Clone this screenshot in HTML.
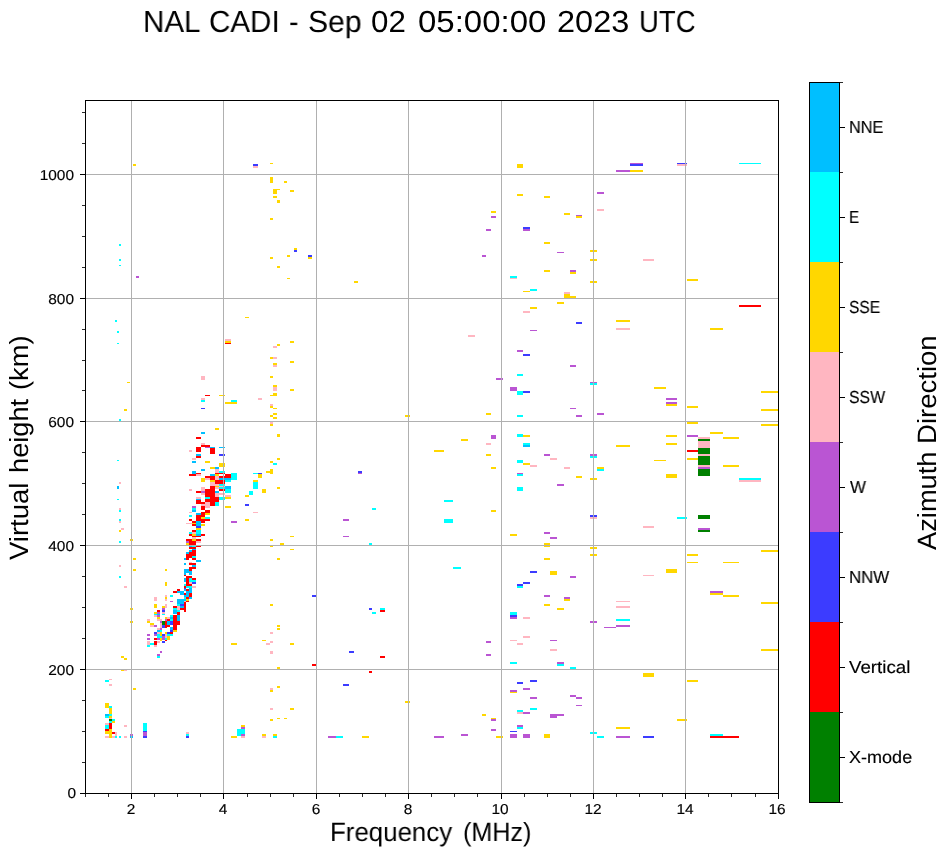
<!DOCTYPE html>
<html><head><meta charset="utf-8"><title>NAL CADI</title>
<style>
html,body{margin:0;padding:0;background:#fff;}
body{width:951px;height:856px;position:relative;overflow:hidden;font-family:"Liberation Sans",sans-serif;color:#000;}
.t{position:absolute;white-space:nowrap;line-height:1;will-change:transform;text-rendering:geometricPrecision;}
.xt,.yt,.ct{-webkit-text-stroke:0.15px #000;}
</style></head><body>
<svg width="951" height="856" viewBox="0 0 951 856" style="position:absolute;left:0;top:0" shape-rendering="crispEdges">
<rect x="133" y="164" width="3" height="2" fill="#ffd700"/>
<rect x="253" y="164" width="5" height="2" fill="#3c3cff"/>
<rect x="253" y="166" width="5" height="2" fill="#ffb6c1"/>
<rect x="270" y="163" width="3" height="1" fill="#ffd700"/>
<rect x="270" y="177" width="3" height="6" fill="#ffd700"/>
<rect x="284" y="181" width="3" height="2" fill="#ffd700"/>
<rect x="273" y="189" width="4" height="5" fill="#ffd700"/>
<rect x="273" y="189" width="7" height="1" fill="#ffd700"/>
<rect x="290" y="190" width="4" height="2" fill="#ffd700"/>
<rect x="273" y="196" width="4" height="2" fill="#ffd700"/>
<rect x="277" y="200" width="3" height="3" fill="#ffd700"/>
<rect x="270" y="218" width="3" height="2" fill="#ffd700"/>
<rect x="119" y="244" width="2" height="2" fill="#00ffff"/>
<rect x="119" y="259" width="2" height="2" fill="#00ffff"/>
<rect x="119" y="265" width="2" height="1" fill="#00ffff"/>
<rect x="136" y="276" width="3" height="2" fill="#ba55d3"/>
<rect x="294" y="248" width="3" height="2" fill="#ffd700"/>
<rect x="294" y="250" width="3" height="2" fill="#3c3cff"/>
<rect x="308" y="255" width="4" height="2" fill="#3c3cff"/>
<rect x="308" y="257" width="4" height="2" fill="#ffd700"/>
<rect x="287" y="255" width="3" height="2" fill="#ffd700"/>
<rect x="270" y="257" width="3" height="2" fill="#ffd700"/>
<rect x="277" y="266" width="3" height="2" fill="#ffd700"/>
<rect x="287" y="278" width="3" height="1" fill="#ffd700"/>
<rect x="115" y="320" width="2" height="2" fill="#00ffff"/>
<rect x="117" y="331" width="2" height="2" fill="#00ffff"/>
<rect x="117" y="343" width="2" height="1" fill="#00ffff"/>
<rect x="245" y="317" width="4" height="1" fill="#ffd700"/>
<rect x="225" y="339" width="6" height="2" fill="#ffb6c1"/>
<rect x="225" y="341" width="6" height="2" fill="#ffd700"/>
<rect x="225" y="343" width="6" height="1" fill="#ff0000"/>
<rect x="290" y="341" width="4" height="2" fill="#ffd700"/>
<rect x="277" y="344" width="3" height="2" fill="#ffd700"/>
<rect x="273" y="346" width="4" height="2" fill="#ffb6c1"/>
<rect x="270" y="357" width="3" height="2" fill="#ffd700"/>
<rect x="273" y="357" width="4" height="2" fill="#ffb6c1"/>
<rect x="290" y="361" width="4" height="2" fill="#ffd700"/>
<rect x="273" y="363" width="4" height="3" fill="#ffd700"/>
<rect x="517" y="164" width="6" height="4" fill="#ffd700"/>
<rect x="517" y="194" width="6" height="2" fill="#ffd700"/>
<rect x="544" y="196" width="6" height="2" fill="#ffd700"/>
<rect x="491" y="211" width="5" height="2" fill="#ffd700"/>
<rect x="491" y="216" width="5" height="2" fill="#ba55d3"/>
<rect x="486" y="229" width="5" height="2" fill="#ba55d3"/>
<rect x="523" y="227" width="7" height="2" fill="#3c3cff"/>
<rect x="523" y="229" width="7" height="2" fill="#ba55d3"/>
<rect x="544" y="242" width="6" height="2" fill="#ffd700"/>
<rect x="557" y="252" width="7" height="1" fill="#ba55d3"/>
<rect x="482" y="255" width="4" height="2" fill="#ba55d3"/>
<rect x="544" y="270" width="6" height="2" fill="#ffd700"/>
<rect x="510" y="276" width="7" height="2" fill="#00ffff"/>
<rect x="510" y="278" width="7" height="1" fill="#ffb6c1"/>
<rect x="354" y="281" width="4" height="2" fill="#ffd700"/>
<rect x="530" y="289" width="7" height="2" fill="#00ffff"/>
<rect x="523" y="291" width="7" height="1" fill="#ffd700"/>
<rect x="557" y="302" width="7" height="2" fill="#ffd700"/>
<rect x="530" y="307" width="7" height="2" fill="#ffd700"/>
<rect x="523" y="311" width="7" height="2" fill="#ffb6c1"/>
<rect x="530" y="330" width="7" height="1" fill="#ba55d3"/>
<rect x="468" y="335" width="7" height="2" fill="#ffb6c1"/>
<rect x="517" y="350" width="6" height="2" fill="#ba55d3"/>
<rect x="523" y="354" width="7" height="2" fill="#3c3cff"/>
<rect x="630" y="163" width="13" height="1" fill="#ba55d3"/>
<rect x="630" y="164" width="13" height="2" fill="#3c3cff"/>
<rect x="616" y="170" width="14" height="2" fill="#ba55d3"/>
<rect x="630" y="170" width="13" height="2" fill="#ffd700"/>
<rect x="677" y="163" width="10" height="1" fill="#3c3cff"/>
<rect x="677" y="164" width="10" height="2" fill="#ffb6c1"/>
<rect x="739" y="163" width="22" height="1" fill="#00ffff"/>
<rect x="597" y="192" width="7" height="2" fill="#ba55d3"/>
<rect x="597" y="209" width="7" height="2" fill="#ffb6c1"/>
<rect x="564" y="213" width="6" height="2" fill="#ffd700"/>
<rect x="576" y="215" width="6" height="1" fill="#ba55d3"/>
<rect x="576" y="216" width="6" height="2" fill="#ffd700"/>
<rect x="590" y="250" width="7" height="2" fill="#ffd700"/>
<rect x="590" y="259" width="7" height="2" fill="#ffd700"/>
<rect x="643" y="259" width="11" height="2" fill="#ffb6c1"/>
<rect x="570" y="270" width="6" height="2" fill="#ba55d3"/>
<rect x="570" y="272" width="6" height="2" fill="#ffd700"/>
<rect x="590" y="281" width="7" height="2" fill="#ffd700"/>
<rect x="687" y="279" width="11" height="2" fill="#ffd700"/>
<rect x="564" y="292" width="6" height="2" fill="#ffb6c1"/>
<rect x="564" y="294" width="6" height="4" fill="#ffd700"/>
<rect x="570" y="296" width="6" height="2" fill="#ffd700"/>
<rect x="739" y="305" width="22" height="2" fill="#ff0000"/>
<rect x="576" y="322" width="6" height="2" fill="#3c3cff"/>
<rect x="616" y="320" width="14" height="2" fill="#ffd700"/>
<rect x="616" y="328" width="14" height="2" fill="#ffb6c1"/>
<rect x="710" y="328" width="13" height="2" fill="#ffd700"/>
<rect x="127" y="382" width="3" height="1" fill="#ffd700"/>
<rect x="124" y="409" width="3" height="2" fill="#ffd700"/>
<rect x="119" y="419" width="2" height="2" fill="#00ffff"/>
<rect x="117" y="460" width="2" height="1" fill="#00ffff"/>
<rect x="119" y="482" width="2" height="2" fill="#ffb6c1"/>
<rect x="117" y="486" width="2" height="3" fill="#00bfff"/>
<rect x="117" y="499" width="2" height="1" fill="#00ffff"/>
<rect x="119" y="508" width="2" height="2" fill="#ffb6c1"/>
<rect x="119" y="510" width="2" height="2" fill="#00ffff"/>
<rect x="119" y="519" width="2" height="2" fill="#00ffff"/>
<rect x="119" y="521" width="2" height="2" fill="#ffb6c1"/>
<rect x="121" y="528" width="3" height="2" fill="#ffb6c1"/>
<rect x="119" y="530" width="2" height="2" fill="#ffd700"/>
<rect x="119" y="541" width="2" height="2" fill="#00ffff"/>
<rect x="130" y="539" width="3" height="2" fill="#ffd700"/>
<rect x="119" y="565" width="2" height="2" fill="#ffb6c1"/>
<rect x="119" y="576" width="2" height="2" fill="#00ffff"/>
<rect x="133" y="558" width="3" height="2" fill="#ffd700"/>
<rect x="133" y="569" width="3" height="2" fill="#ffd700"/>
<rect x="165" y="569" width="2" height="2" fill="#ffd700"/>
<rect x="201" y="376" width="4" height="4" fill="#ffb6c1"/>
<rect x="205" y="395" width="5" height="1" fill="#ff0000"/>
<rect x="219" y="395" width="6" height="1" fill="#ffd700"/>
<rect x="201" y="398" width="4" height="2" fill="#ffb6c1"/>
<rect x="201" y="400" width="4" height="2" fill="#00ffff"/>
<rect x="201" y="408" width="4" height="1" fill="#3c3cff"/>
<rect x="231" y="400" width="6" height="2" fill="#00ffff"/>
<rect x="225" y="402" width="12" height="2" fill="#ffd700"/>
<rect x="258" y="398" width="4" height="2" fill="#ffb6c1"/>
<rect x="273" y="366" width="4" height="1" fill="#ffb6c1"/>
<rect x="270" y="376" width="3" height="2" fill="#ffd700"/>
<rect x="273" y="385" width="4" height="2" fill="#ffd700"/>
<rect x="273" y="387" width="4" height="4" fill="#ffb6c1"/>
<rect x="290" y="389" width="4" height="2" fill="#ffd700"/>
<rect x="273" y="393" width="4" height="3" fill="#ffd700"/>
<rect x="270" y="395" width="3" height="1" fill="#ffd700"/>
<rect x="270" y="404" width="3" height="2" fill="#ffb6c1"/>
<rect x="270" y="406" width="3" height="2" fill="#ffd700"/>
<rect x="273" y="408" width="4" height="1" fill="#ffd700"/>
<rect x="273" y="413" width="4" height="2" fill="#ffd700"/>
<rect x="270" y="415" width="3" height="2" fill="#ffd700"/>
<rect x="273" y="417" width="4" height="2" fill="#ffd700"/>
<rect x="270" y="422" width="3" height="2" fill="#ffb6c1"/>
<rect x="270" y="424" width="3" height="2" fill="#ffd700"/>
<rect x="277" y="434" width="3" height="3" fill="#ffd700"/>
<rect x="277" y="458" width="3" height="2" fill="#ffd700"/>
<rect x="270" y="461" width="3" height="2" fill="#ffd700"/>
<rect x="273" y="463" width="4" height="2" fill="#00ffff"/>
<rect x="270" y="469" width="3" height="5" fill="#ffd700"/>
<rect x="266" y="471" width="4" height="2" fill="#ffd700"/>
<rect x="277" y="487" width="3" height="2" fill="#ffd700"/>
<rect x="290" y="536" width="4" height="1" fill="#ffd700"/>
<rect x="270" y="539" width="3" height="2" fill="#ffd700"/>
<rect x="280" y="543" width="4" height="2" fill="#ffd700"/>
<rect x="270" y="546" width="3" height="1" fill="#ffd700"/>
<rect x="290" y="549" width="4" height="1" fill="#ffd700"/>
<rect x="277" y="558" width="3" height="2" fill="#ffd700"/>
<rect x="231" y="473" width="6" height="7" fill="#00ffff"/>
<rect x="253" y="473" width="5" height="1" fill="#00ffff"/>
<rect x="258" y="473" width="4" height="1" fill="#3c3cff"/>
<rect x="258" y="474" width="4" height="4" fill="#ffd700"/>
<rect x="253" y="480" width="5" height="2" fill="#ffd700"/>
<rect x="253" y="482" width="5" height="7" fill="#00ffff"/>
<rect x="262" y="489" width="4" height="4" fill="#ffd700"/>
<rect x="249" y="491" width="4" height="4" fill="#00ffff"/>
<rect x="245" y="495" width="4" height="2" fill="#ffd700"/>
<rect x="245" y="504" width="4" height="2" fill="#3c3cff"/>
<rect x="253" y="512" width="5" height="1" fill="#ffb6c1"/>
<rect x="245" y="519" width="4" height="2" fill="#ffd700"/>
<rect x="231" y="521" width="6" height="2" fill="#ba55d3"/>
<rect x="225" y="506" width="6" height="2" fill="#ffd700"/>
<rect x="225" y="495" width="6" height="2" fill="#ffb6c1"/>
<rect x="225" y="497" width="6" height="2" fill="#ffd700"/>
<rect x="215" y="428" width="4" height="2" fill="#ffd700"/>
<rect x="201" y="432" width="4" height="2" fill="#00bfff"/>
<rect x="196" y="437" width="5" height="2" fill="#ff0000"/>
<rect x="201" y="443" width="4" height="2" fill="#ffb6c1"/>
<rect x="201" y="445" width="9" height="2" fill="#ff0000"/>
<rect x="205" y="447" width="5" height="1" fill="#ba55d3"/>
<rect x="210" y="447" width="5" height="1" fill="#00bfff"/>
<rect x="219" y="447" width="6" height="1" fill="#00bfff"/>
<rect x="196" y="447" width="5" height="5" fill="#ff0000"/>
<rect x="210" y="448" width="5" height="6" fill="#ff0000"/>
<rect x="189" y="450" width="3" height="2" fill="#ffb6c1"/>
<rect x="196" y="454" width="5" height="2" fill="#00bfff"/>
<rect x="219" y="454" width="6" height="2" fill="#3c3cff"/>
<rect x="196" y="456" width="5" height="2" fill="#ff0000"/>
<rect x="192" y="458" width="4" height="2" fill="#ffb6c1"/>
<rect x="192" y="461" width="4" height="2" fill="#00bfff"/>
<rect x="205" y="461" width="5" height="2" fill="#ffd700"/>
<rect x="219" y="463" width="6" height="4" fill="#ffd700"/>
<rect x="210" y="467" width="5" height="2" fill="#ffd700"/>
<rect x="215" y="467" width="4" height="2" fill="#00bfff"/>
<rect x="201" y="469" width="4" height="2" fill="#00bfff"/>
<rect x="215" y="469" width="4" height="4" fill="#ffb6c1"/>
<rect x="219" y="471" width="6" height="2" fill="#00ffff"/>
<rect x="192" y="471" width="4" height="3" fill="#00bfff"/>
<rect x="196" y="473" width="5" height="1" fill="#ff0000"/>
<rect x="189" y="474" width="7" height="2" fill="#ff0000"/>
<rect x="196" y="474" width="5" height="2" fill="#ffb6c1"/>
<rect x="215" y="473" width="10" height="1" fill="#ff0000"/>
<rect x="210" y="474" width="5" height="2" fill="#00bfff"/>
<rect x="215" y="474" width="4" height="2" fill="#ffd700"/>
<rect x="225" y="474" width="6" height="2" fill="#ff0000"/>
<rect x="205" y="476" width="10" height="2" fill="#ff0000"/>
<rect x="215" y="476" width="4" height="2" fill="#ffb6c1"/>
<rect x="219" y="476" width="12" height="2" fill="#ff0000"/>
<rect x="201" y="478" width="4" height="4" fill="#ffd700"/>
<rect x="205" y="478" width="5" height="2" fill="#ffb6c1"/>
<rect x="210" y="478" width="5" height="2" fill="#ff0000"/>
<rect x="215" y="478" width="4" height="2" fill="#ffb6c1"/>
<rect x="219" y="478" width="12" height="2" fill="#00bfff"/>
<rect x="210" y="480" width="5" height="2" fill="#ffd700"/>
<rect x="215" y="480" width="10" height="4" fill="#ff0000"/>
<rect x="225" y="480" width="6" height="2" fill="#00ffff"/>
<rect x="210" y="482" width="5" height="4" fill="#ffb6c1"/>
<rect x="215" y="484" width="4" height="2" fill="#ffb6c1"/>
<rect x="219" y="484" width="6" height="2" fill="#00ffff"/>
<rect x="210" y="486" width="5" height="3" fill="#ff0000"/>
<rect x="215" y="486" width="4" height="1" fill="#ffd700"/>
<rect x="219" y="486" width="6" height="1" fill="#ffb6c1"/>
<rect x="201" y="487" width="4" height="4" fill="#ffb6c1"/>
<rect x="215" y="487" width="4" height="2" fill="#ffb6c1"/>
<rect x="219" y="487" width="6" height="2" fill="#00ffff"/>
<rect x="225" y="486" width="6" height="3" fill="#00bfff"/>
<rect x="189" y="489" width="3" height="2" fill="#ffb6c1"/>
<rect x="205" y="489" width="10" height="3" fill="#ff0000"/>
<rect x="219" y="489" width="6" height="2" fill="#ff0000"/>
<rect x="225" y="489" width="6" height="3" fill="#00ffff"/>
<rect x="196" y="491" width="5" height="1" fill="#ff0000"/>
<rect x="201" y="491" width="4" height="1" fill="#ba55d3"/>
<rect x="215" y="491" width="4" height="1" fill="#00bfff"/>
<rect x="253" y="488" width="5" height="1" fill="#00ffff"/>
<rect x="249" y="491" width="4" height="4" fill="#00ffff"/>
<rect x="196" y="491" width="5" height="2" fill="#ff0000"/>
<rect x="201" y="491" width="4" height="2" fill="#ba55d3"/>
<rect x="205" y="491" width="10" height="2" fill="#ff0000"/>
<rect x="215" y="491" width="4" height="2" fill="#00bfff"/>
<rect x="225" y="489" width="6" height="4" fill="#00ffff"/>
<rect x="201" y="493" width="4" height="2" fill="#ffb6c1"/>
<rect x="205" y="493" width="10" height="4" fill="#ff0000"/>
<rect x="215" y="493" width="4" height="4" fill="#ffb6c1"/>
<rect x="219" y="493" width="6" height="2" fill="#ffb6c1"/>
<rect x="225" y="495" width="6" height="2" fill="#ffb6c1"/>
<rect x="245" y="495" width="4" height="2" fill="#ffd700"/>
<rect x="196" y="497" width="5" height="2" fill="#ffb6c1"/>
<rect x="205" y="497" width="5" height="2" fill="#00ffff"/>
<rect x="210" y="497" width="9" height="2" fill="#ff0000"/>
<rect x="219" y="497" width="6" height="3" fill="#00ffff"/>
<rect x="225" y="497" width="6" height="2" fill="#ffd700"/>
<rect x="196" y="499" width="5" height="1" fill="#00bfff"/>
<rect x="205" y="499" width="14" height="3" fill="#ff0000"/>
<rect x="196" y="500" width="5" height="2" fill="#ff0000"/>
<rect x="196" y="502" width="9" height="2" fill="#ff0000"/>
<rect x="205" y="502" width="5" height="6" fill="#ffb6c1"/>
<rect x="210" y="502" width="5" height="4" fill="#ff0000"/>
<rect x="215" y="502" width="4" height="4" fill="#00ffff"/>
<rect x="201" y="504" width="4" height="2" fill="#ffb6c1"/>
<rect x="245" y="504" width="4" height="2" fill="#3c3cff"/>
<rect x="192" y="506" width="4" height="2" fill="#ba55d3"/>
<rect x="201" y="506" width="4" height="4" fill="#ff0000"/>
<rect x="225" y="506" width="6" height="2" fill="#ffd700"/>
<rect x="192" y="508" width="4" height="2" fill="#00ffff"/>
<rect x="192" y="510" width="4" height="2" fill="#00bfff"/>
<rect x="205" y="510" width="5" height="3" fill="#ff0000"/>
<rect x="189" y="512" width="3" height="1" fill="#ffb6c1"/>
<rect x="201" y="512" width="4" height="1" fill="#ff0000"/>
<rect x="253" y="512" width="5" height="1" fill="#ffb6c1"/>
<rect x="196" y="513" width="5" height="2" fill="#00bfff"/>
<rect x="201" y="513" width="4" height="2" fill="#ff0000"/>
<rect x="205" y="513" width="5" height="2" fill="#ffd700"/>
<rect x="189" y="515" width="3" height="2" fill="#00ffff"/>
<rect x="196" y="515" width="9" height="2" fill="#ff0000"/>
<rect x="196" y="517" width="5" height="2" fill="#ff0000"/>
<rect x="201" y="517" width="4" height="2" fill="#ffd700"/>
<rect x="205" y="517" width="5" height="2" fill="#00ffff"/>
<rect x="189" y="519" width="3" height="2" fill="#ff0000"/>
<rect x="196" y="519" width="14" height="2" fill="#ff0000"/>
<rect x="245" y="519" width="4" height="2" fill="#ffd700"/>
<rect x="192" y="521" width="4" height="2" fill="#ff0000"/>
<rect x="196" y="521" width="5" height="5" fill="#00bfff"/>
<rect x="201" y="521" width="4" height="2" fill="#ff0000"/>
<rect x="231" y="521" width="6" height="2" fill="#ba55d3"/>
<rect x="186" y="523" width="6" height="1" fill="#ffb6c1"/>
<rect x="192" y="523" width="4" height="1" fill="#ffd700"/>
<rect x="192" y="524" width="4" height="2" fill="#ff0000"/>
<rect x="201" y="524" width="4" height="2" fill="#ffd700"/>
<rect x="196" y="526" width="5" height="2" fill="#3c3cff"/>
<rect x="196" y="528" width="5" height="2" fill="#ffd700"/>
<rect x="192" y="530" width="4" height="2" fill="#ff0000"/>
<rect x="196" y="530" width="5" height="4" fill="#00ffff"/>
<rect x="189" y="532" width="3" height="2" fill="#00ffff"/>
<rect x="192" y="532" width="4" height="2" fill="#ffb6c1"/>
<rect x="189" y="534" width="3" height="2" fill="#ff0000"/>
<rect x="192" y="534" width="4" height="2" fill="#ffd700"/>
<rect x="196" y="534" width="5" height="2" fill="#00bfff"/>
<rect x="201" y="534" width="4" height="2" fill="#ff0000"/>
<rect x="192" y="536" width="9" height="1" fill="#ff0000"/>
<rect x="192" y="537" width="4" height="2" fill="#ffb6c1"/>
<rect x="186" y="539" width="6" height="2" fill="#ff0000"/>
<rect x="192" y="539" width="4" height="2" fill="#ffd700"/>
<rect x="196" y="539" width="5" height="2" fill="#ff0000"/>
<rect x="186" y="541" width="3" height="2" fill="#ba55d3"/>
<rect x="189" y="541" width="7" height="4" fill="#ff0000"/>
<rect x="196" y="541" width="5" height="2" fill="#ffb6c1"/>
<rect x="186" y="543" width="3" height="2" fill="#ffd700"/>
<rect x="189" y="546" width="3" height="1" fill="#00bfff"/>
<rect x="192" y="546" width="4" height="1" fill="#00ffff"/>
<rect x="196" y="546" width="5" height="1" fill="#ff0000"/>
<rect x="189" y="547" width="7" height="2" fill="#ff0000"/>
<rect x="192" y="549" width="4" height="1" fill="#00bfff"/>
<rect x="189" y="550" width="3" height="2" fill="#00bfff"/>
<rect x="192" y="550" width="4" height="2" fill="#ff0000"/>
<rect x="186" y="552" width="3" height="2" fill="#00bfff"/>
<rect x="189" y="552" width="7" height="2" fill="#ff0000"/>
<rect x="186" y="554" width="10" height="2" fill="#ff0000"/>
<rect x="186" y="556" width="6" height="2" fill="#ff0000"/>
<rect x="192" y="556" width="4" height="2" fill="#00ffff"/>
<rect x="184" y="558" width="2" height="2" fill="#00bfff"/>
<rect x="186" y="558" width="3" height="2" fill="#ff0000"/>
<rect x="192" y="558" width="4" height="2" fill="#ff0000"/>
<rect x="196" y="560" width="5" height="2" fill="#00bfff"/>
<rect x="189" y="562" width="3" height="1" fill="#ffb6c1"/>
<rect x="184" y="563" width="2" height="2" fill="#00bfff"/>
<rect x="189" y="563" width="7" height="2" fill="#ff0000"/>
<rect x="192" y="565" width="4" height="2" fill="#00bfff"/>
<rect x="189" y="567" width="7" height="2" fill="#ff0000"/>
<rect x="165" y="569" width="2" height="2" fill="#ffd700"/>
<rect x="184" y="569" width="5" height="2" fill="#00bfff"/>
<rect x="189" y="569" width="3" height="2" fill="#ff0000"/>
<rect x="184" y="571" width="8" height="2" fill="#00bfff"/>
<rect x="184" y="573" width="2" height="2" fill="#00bfff"/>
<rect x="189" y="573" width="3" height="2" fill="#00bfff"/>
<rect x="184" y="575" width="2" height="1" fill="#ff0000"/>
<rect x="186" y="576" width="6" height="2" fill="#ff0000"/>
<rect x="184" y="578" width="2" height="4" fill="#00bfff"/>
<rect x="186" y="578" width="3" height="6" fill="#ff0000"/>
<rect x="189" y="578" width="3" height="4" fill="#00ffff"/>
<rect x="192" y="578" width="4" height="2" fill="#ff0000"/>
<rect x="192" y="580" width="4" height="2" fill="#00ffff"/>
<rect x="189" y="582" width="3" height="2" fill="#ffb6c1"/>
<rect x="192" y="582" width="4" height="2" fill="#3c3cff"/>
<rect x="165" y="582" width="2" height="4" fill="#ffd700"/>
<rect x="184" y="584" width="2" height="2" fill="#00ffff"/>
<rect x="186" y="584" width="6" height="2" fill="#ff0000"/>
<rect x="184" y="586" width="2" height="2" fill="#ff0000"/>
<rect x="186" y="586" width="6" height="2" fill="#00ffff"/>
<rect x="192" y="586" width="4" height="2" fill="#ffb6c1"/>
<rect x="184" y="588" width="2" height="1" fill="#3c3cff"/>
<rect x="189" y="588" width="3" height="1" fill="#00bfff"/>
<rect x="177" y="589" width="3" height="2" fill="#ff0000"/>
<rect x="184" y="589" width="2" height="2" fill="#00bfff"/>
<rect x="186" y="589" width="3" height="2" fill="#ff0000"/>
<rect x="189" y="589" width="3" height="4" fill="#00bfff"/>
<rect x="173" y="591" width="4" height="2" fill="#ff0000"/>
<rect x="177" y="591" width="7" height="2" fill="#00bfff"/>
<rect x="186" y="591" width="3" height="4" fill="#00bfff"/>
<rect x="180" y="593" width="4" height="2" fill="#00bfff"/>
<rect x="184" y="593" width="2" height="2" fill="#ff0000"/>
<rect x="189" y="593" width="3" height="4" fill="#ff0000"/>
<rect x="165" y="595" width="2" height="2" fill="#ffb6c1"/>
<rect x="170" y="595" width="3" height="2" fill="#00ffff"/>
<rect x="184" y="595" width="5" height="2" fill="#00bfff"/>
<rect x="154" y="597" width="3" height="4" fill="#ffb6c1"/>
<rect x="165" y="597" width="2" height="2" fill="#ffd700"/>
<rect x="184" y="597" width="2" height="2" fill="#00ffff"/>
<rect x="186" y="597" width="3" height="2" fill="#ff0000"/>
<rect x="189" y="597" width="3" height="2" fill="#00bfff"/>
<rect x="165" y="599" width="2" height="2" fill="#ffb6c1"/>
<rect x="177" y="599" width="9" height="2" fill="#00bfff"/>
<rect x="186" y="599" width="3" height="2" fill="#ffd700"/>
<rect x="170" y="601" width="3" height="1" fill="#ba55d3"/>
<rect x="177" y="601" width="7" height="3" fill="#00bfff"/>
<rect x="184" y="601" width="2" height="1" fill="#ffb6c1"/>
<rect x="186" y="601" width="3" height="1" fill="#ff0000"/>
<rect x="184" y="602" width="2" height="10" fill="#ff0000"/>
<rect x="154" y="604" width="3" height="4" fill="#ffd700"/>
<rect x="165" y="604" width="2" height="4" fill="#ffb6c1"/>
<rect x="177" y="604" width="3" height="2" fill="#00ffff"/>
<rect x="180" y="604" width="4" height="2" fill="#3c3cff"/>
<rect x="162" y="606" width="3" height="2" fill="#ffd700"/>
<rect x="173" y="606" width="4" height="2" fill="#ff0000"/>
<rect x="177" y="606" width="3" height="4" fill="#ffb6c1"/>
<rect x="180" y="606" width="4" height="2" fill="#00bfff"/>
<rect x="162" y="608" width="3" height="2" fill="#ba55d3"/>
<rect x="173" y="608" width="4" height="2" fill="#00ffff"/>
<rect x="180" y="608" width="4" height="2" fill="#ff0000"/>
<rect x="157" y="610" width="3" height="2" fill="#ff0000"/>
<rect x="162" y="610" width="3" height="2" fill="#3c3cff"/>
<rect x="173" y="610" width="4" height="4" fill="#00bfff"/>
<rect x="177" y="610" width="3" height="2" fill="#00ffff"/>
<rect x="154" y="612" width="3" height="2" fill="#ffd700"/>
<rect x="157" y="612" width="3" height="2" fill="#ba55d3"/>
<rect x="162" y="612" width="3" height="2" fill="#ffb6c1"/>
<rect x="177" y="612" width="3" height="3" fill="#ff0000"/>
<rect x="154" y="614" width="3" height="1" fill="#00ffff"/>
<rect x="157" y="614" width="3" height="1" fill="#00bfff"/>
<rect x="162" y="614" width="3" height="1" fill="#00ffff"/>
<rect x="154" y="615" width="3" height="2" fill="#ffb6c1"/>
<rect x="157" y="615" width="3" height="2" fill="#ba55d3"/>
<rect x="170" y="615" width="3" height="2" fill="#00ffff"/>
<rect x="173" y="615" width="4" height="13" fill="#ff0000"/>
<rect x="177" y="615" width="3" height="6" fill="#00bfff"/>
<rect x="157" y="617" width="3" height="2" fill="#ffd700"/>
<rect x="165" y="617" width="2" height="2" fill="#ffd700"/>
<rect x="167" y="617" width="3" height="2" fill="#ffb6c1"/>
<rect x="170" y="617" width="3" height="2" fill="#00bfff"/>
<rect x="147" y="619" width="3" height="2" fill="#ffb6c1"/>
<rect x="157" y="619" width="5" height="2" fill="#ffb6c1"/>
<rect x="165" y="619" width="2" height="2" fill="#ba55d3"/>
<rect x="167" y="619" width="3" height="2" fill="#ff0000"/>
<rect x="170" y="619" width="3" height="2" fill="#00ffff"/>
<rect x="147" y="621" width="3" height="2" fill="#ffd700"/>
<rect x="160" y="621" width="2" height="2" fill="#ba55d3"/>
<rect x="162" y="621" width="3" height="4" fill="#008000"/>
<rect x="165" y="621" width="2" height="7" fill="#ff0000"/>
<rect x="167" y="621" width="3" height="4" fill="#00bfff"/>
<rect x="170" y="621" width="3" height="4" fill="#3c3cff"/>
<rect x="177" y="621" width="3" height="4" fill="#ff0000"/>
<rect x="150" y="623" width="4" height="2" fill="#ffd700"/>
<rect x="160" y="623" width="2" height="5" fill="#ffb6c1"/>
<rect x="150" y="625" width="4" height="2" fill="#ffb6c1"/>
<rect x="154" y="625" width="3" height="2" fill="#ba55d3"/>
<rect x="162" y="625" width="3" height="3" fill="#3c3cff"/>
<rect x="167" y="625" width="3" height="2" fill="#ff0000"/>
<rect x="170" y="627" width="3" height="1" fill="#00bfff"/>
<rect x="157" y="628" width="3" height="2" fill="#ffb6c1"/>
<rect x="160" y="628" width="2" height="2" fill="#ba55d3"/>
<rect x="170" y="627" width="3" height="3" fill="#00bfff"/>
<rect x="173" y="625" width="4" height="5" fill="#ff0000"/>
<rect x="157" y="630" width="3" height="2" fill="#00bfff"/>
<rect x="160" y="630" width="2" height="2" fill="#00ffff"/>
<rect x="170" y="630" width="3" height="2" fill="#3c3cff"/>
<rect x="173" y="630" width="4" height="2" fill="#ffd700"/>
<rect x="154" y="632" width="3" height="2" fill="#3c3cff"/>
<rect x="157" y="632" width="3" height="2" fill="#ffb6c1"/>
<rect x="160" y="632" width="2" height="4" fill="#ffd700"/>
<rect x="165" y="632" width="2" height="2" fill="#ffd700"/>
<rect x="167" y="632" width="3" height="2" fill="#3c3cff"/>
<rect x="170" y="632" width="3" height="2" fill="#ff0000"/>
<rect x="147" y="634" width="3" height="2" fill="#ba55d3"/>
<rect x="154" y="634" width="3" height="2" fill="#ba55d3"/>
<rect x="157" y="634" width="3" height="2" fill="#00ffff"/>
<rect x="162" y="634" width="3" height="2" fill="#3c3cff"/>
<rect x="165" y="634" width="2" height="4" fill="#ffb6c1"/>
<rect x="167" y="634" width="6" height="2" fill="#00ffff"/>
<rect x="157" y="636" width="5" height="2" fill="#00ffff"/>
<rect x="162" y="636" width="3" height="4" fill="#ba55d3"/>
<rect x="167" y="636" width="3" height="4" fill="#ffd700"/>
<rect x="147" y="638" width="3" height="2" fill="#ba55d3"/>
<rect x="154" y="638" width="3" height="2" fill="#ff0000"/>
<rect x="157" y="638" width="3" height="2" fill="#ba55d3"/>
<rect x="160" y="638" width="2" height="3" fill="#ffd700"/>
<rect x="165" y="638" width="2" height="2" fill="#00ffff"/>
<rect x="165" y="640" width="2" height="1" fill="#ff0000"/>
<rect x="147" y="641" width="3" height="4" fill="#ffb6c1"/>
<rect x="154" y="641" width="3" height="4" fill="#ff0000"/>
<rect x="157" y="641" width="3" height="2" fill="#ffb6c1"/>
<rect x="162" y="641" width="3" height="2" fill="#3c3cff"/>
<rect x="150" y="643" width="4" height="2" fill="#00ffff"/>
<rect x="147" y="645" width="3" height="2" fill="#00ffff"/>
<rect x="154" y="645" width="3" height="2" fill="#ffb6c1"/>
<rect x="160" y="651" width="2" height="2" fill="#ba55d3"/>
<rect x="157" y="654" width="3" height="2" fill="#ba55d3"/>
<rect x="157" y="656" width="3" height="2" fill="#00ffff"/>
<rect x="133" y="688" width="3" height="2" fill="#ffd700"/>
<rect x="517" y="374" width="6" height="2" fill="#00ffff"/>
<rect x="496" y="378" width="7" height="2" fill="#ba55d3"/>
<rect x="510" y="387" width="7" height="4" fill="#ba55d3"/>
<rect x="517" y="391" width="6" height="4" fill="#00ffff"/>
<rect x="523" y="391" width="7" height="2" fill="#3c3cff"/>
<rect x="486" y="413" width="5" height="2" fill="#ffd700"/>
<rect x="405" y="415" width="5" height="2" fill="#ffd700"/>
<rect x="517" y="415" width="6" height="2" fill="#00ffff"/>
<rect x="491" y="435" width="5" height="4" fill="#ba55d3"/>
<rect x="517" y="434" width="6" height="3" fill="#00ffff"/>
<rect x="523" y="435" width="7" height="2" fill="#ffd700"/>
<rect x="461" y="439" width="7" height="2" fill="#ffd700"/>
<rect x="486" y="443" width="5" height="2" fill="#ffb6c1"/>
<rect x="523" y="443" width="7" height="2" fill="#00ffff"/>
<rect x="523" y="445" width="7" height="2" fill="#00bfff"/>
<rect x="434" y="450" width="10" height="2" fill="#ffd700"/>
<rect x="486" y="454" width="5" height="2" fill="#ffd700"/>
<rect x="544" y="454" width="6" height="2" fill="#ba55d3"/>
<rect x="550" y="458" width="7" height="2" fill="#ffb6c1"/>
<rect x="517" y="460" width="6" height="3" fill="#00ffff"/>
<rect x="523" y="463" width="7" height="2" fill="#ffd700"/>
<rect x="530" y="465" width="7" height="2" fill="#ffb6c1"/>
<rect x="491" y="467" width="5" height="2" fill="#ffd700"/>
<rect x="358" y="471" width="4" height="2" fill="#3c3cff"/>
<rect x="358" y="473" width="4" height="1" fill="#ba55d3"/>
<rect x="517" y="473" width="6" height="1" fill="#ba55d3"/>
<rect x="517" y="474" width="6" height="2" fill="#00ffff"/>
<rect x="557" y="484" width="7" height="2" fill="#ba55d3"/>
<rect x="517" y="487" width="6" height="4" fill="#00ffff"/>
<rect x="444" y="500" width="9" height="2" fill="#00ffff"/>
<rect x="372" y="508" width="4" height="2" fill="#00ffff"/>
<rect x="491" y="510" width="5" height="2" fill="#ffd700"/>
<rect x="343" y="519" width="6" height="2" fill="#ba55d3"/>
<rect x="444" y="519" width="9" height="4" fill="#00ffff"/>
<rect x="544" y="532" width="6" height="2" fill="#ba55d3"/>
<rect x="510" y="534" width="7" height="2" fill="#ffd700"/>
<rect x="343" y="536" width="6" height="1" fill="#ba55d3"/>
<rect x="550" y="537" width="7" height="2" fill="#ba55d3"/>
<rect x="369" y="543" width="3" height="2" fill="#00ffff"/>
<rect x="544" y="543" width="6" height="4" fill="#ffd700"/>
<rect x="544" y="558" width="6" height="2" fill="#ffd700"/>
<rect x="453" y="567" width="8" height="2" fill="#00ffff"/>
<rect x="530" y="571" width="7" height="2" fill="#3c3cff"/>
<rect x="550" y="571" width="7" height="4" fill="#ffd700"/>
<rect x="570" y="365" width="6" height="2" fill="#ba55d3"/>
<rect x="590" y="382" width="7" height="1" fill="#ba55d3"/>
<rect x="590" y="383" width="7" height="2" fill="#00ffff"/>
<rect x="654" y="387" width="12" height="2" fill="#ffd700"/>
<rect x="761" y="391" width="17" height="2" fill="#ffd700"/>
<rect x="666" y="398" width="11" height="2" fill="#ba55d3"/>
<rect x="666" y="402" width="11" height="2" fill="#ba55d3"/>
<rect x="666" y="404" width="11" height="2" fill="#ffd700"/>
<rect x="687" y="406" width="11" height="2" fill="#ffd700"/>
<rect x="570" y="408" width="6" height="1" fill="#ba55d3"/>
<rect x="761" y="409" width="17" height="2" fill="#ffd700"/>
<rect x="597" y="413" width="7" height="2" fill="#ba55d3"/>
<rect x="576" y="415" width="6" height="2" fill="#ba55d3"/>
<rect x="687" y="422" width="11" height="2" fill="#ffd700"/>
<rect x="761" y="424" width="17" height="2" fill="#ffd700"/>
<rect x="710" y="432" width="13" height="2" fill="#ffd700"/>
<rect x="666" y="435" width="11" height="2" fill="#ffd700"/>
<rect x="687" y="435" width="11" height="2" fill="#ba55d3"/>
<rect x="723" y="437" width="16" height="2" fill="#ffd700"/>
<rect x="698" y="437" width="12" height="2" fill="#ffb6c1"/>
<rect x="698" y="439" width="12" height="2" fill="#008000"/>
<rect x="698" y="441" width="12" height="7" fill="#ffb6c1"/>
<rect x="698" y="448" width="12" height="6" fill="#008000"/>
<rect x="698" y="454" width="12" height="2" fill="#ffb6c1"/>
<rect x="698" y="456" width="12" height="9" fill="#008000"/>
<rect x="698" y="465" width="12" height="2" fill="#ffb6c1"/>
<rect x="698" y="467" width="12" height="2" fill="#ba55d3"/>
<rect x="698" y="469" width="12" height="7" fill="#008000"/>
<rect x="666" y="443" width="11" height="2" fill="#ffd700"/>
<rect x="616" y="445" width="14" height="2" fill="#ffd700"/>
<rect x="687" y="450" width="11" height="2" fill="#ff0000"/>
<rect x="590" y="454" width="7" height="2" fill="#ba55d3"/>
<rect x="590" y="456" width="7" height="2" fill="#00ffff"/>
<rect x="687" y="458" width="11" height="2" fill="#ffd700"/>
<rect x="654" y="460" width="12" height="1" fill="#ffd700"/>
<rect x="564" y="467" width="6" height="2" fill="#ffb6c1"/>
<rect x="597" y="467" width="7" height="2" fill="#ffd700"/>
<rect x="597" y="469" width="7" height="2" fill="#00ffff"/>
<rect x="723" y="465" width="16" height="2" fill="#ffd700"/>
<rect x="666" y="474" width="11" height="4" fill="#ffd700"/>
<rect x="576" y="476" width="6" height="2" fill="#ffd700"/>
<rect x="590" y="478" width="7" height="2" fill="#ffd700"/>
<rect x="739" y="478" width="22" height="2" fill="#00ffff"/>
<rect x="739" y="480" width="22" height="2" fill="#ffb6c1"/>
<rect x="590" y="515" width="7" height="2" fill="#3c3cff"/>
<rect x="590" y="517" width="7" height="2" fill="#ffb6c1"/>
<rect x="698" y="515" width="12" height="4" fill="#008000"/>
<rect x="677" y="517" width="10" height="2" fill="#00ffff"/>
<rect x="643" y="526" width="11" height="2" fill="#ffb6c1"/>
<rect x="698" y="528" width="12" height="2" fill="#ba55d3"/>
<rect x="698" y="530" width="12" height="2" fill="#008000"/>
<rect x="590" y="547" width="7" height="2" fill="#ffd700"/>
<rect x="761" y="550" width="17" height="2" fill="#ffd700"/>
<rect x="590" y="554" width="7" height="2" fill="#ffd700"/>
<rect x="687" y="554" width="11" height="2" fill="#ffd700"/>
<rect x="687" y="562" width="11" height="1" fill="#ffd700"/>
<rect x="723" y="562" width="16" height="1" fill="#ffd700"/>
<rect x="666" y="569" width="11" height="4" fill="#ffd700"/>
<rect x="643" y="575" width="11" height="1" fill="#ffb6c1"/>
<rect x="570" y="576" width="6" height="2" fill="#ba55d3"/>
<rect x="124" y="586" width="3" height="2" fill="#ffb6c1"/>
<rect x="130" y="608" width="3" height="2" fill="#ffd700"/>
<rect x="130" y="621" width="3" height="2" fill="#ffd700"/>
<rect x="121" y="656" width="3" height="2" fill="#ffd700"/>
<rect x="124" y="658" width="3" height="2" fill="#ffd700"/>
<rect x="121" y="670" width="6" height="1" fill="#ffd700"/>
<rect x="312" y="595" width="4" height="2" fill="#3c3cff"/>
<rect x="270" y="604" width="3" height="2" fill="#ffd700"/>
<rect x="277" y="625" width="3" height="2" fill="#ffd700"/>
<rect x="277" y="628" width="3" height="2" fill="#ffd700"/>
<rect x="270" y="632" width="3" height="2" fill="#ffb6c1"/>
<rect x="262" y="640" width="4" height="1" fill="#ffd700"/>
<rect x="270" y="641" width="3" height="2" fill="#ffb6c1"/>
<rect x="266" y="643" width="4" height="2" fill="#ffb6c1"/>
<rect x="231" y="643" width="6" height="2" fill="#ffd700"/>
<rect x="290" y="643" width="4" height="2" fill="#ffd700"/>
<rect x="270" y="651" width="3" height="3" fill="#ffb6c1"/>
<rect x="312" y="664" width="4" height="2" fill="#ff0000"/>
<rect x="277" y="667" width="3" height="2" fill="#ffd700"/>
<rect x="277" y="686" width="3" height="2" fill="#ffd700"/>
<rect x="270" y="688" width="3" height="2" fill="#ffb6c1"/>
<rect x="270" y="690" width="3" height="2" fill="#ffd700"/>
<rect x="270" y="708" width="3" height="2" fill="#ffb6c1"/>
<rect x="290" y="708" width="4" height="2" fill="#ffd700"/>
<rect x="270" y="719" width="3" height="2" fill="#ffd700"/>
<rect x="277" y="718" width="3" height="1" fill="#ffd700"/>
<rect x="284" y="718" width="3" height="1" fill="#ffd700"/>
<rect x="133" y="688" width="3" height="2" fill="#ffd700"/>
<rect x="121" y="670" width="3" height="1" fill="#ffd700"/>
<rect x="124" y="670" width="3" height="1" fill="#ffb6c1"/>
<rect x="109" y="679" width="3" height="1" fill="#ffb6c1"/>
<rect x="105" y="680" width="4" height="2" fill="#00ffff"/>
<rect x="109" y="684" width="3" height="2" fill="#ffb6c1"/>
<rect x="105" y="703" width="4" height="5" fill="#ffd700"/>
<rect x="109" y="706" width="3" height="2" fill="#00ffff"/>
<rect x="109" y="708" width="3" height="6" fill="#ffd700"/>
<rect x="105" y="714" width="4" height="2" fill="#00bfff"/>
<rect x="109" y="714" width="3" height="2" fill="#00ffff"/>
<rect x="105" y="716" width="4" height="2" fill="#00ffff"/>
<rect x="109" y="716" width="3" height="2" fill="#ffd700"/>
<rect x="109" y="718" width="3" height="1" fill="#ffb6c1"/>
<rect x="109" y="719" width="3" height="2" fill="#008000"/>
<rect x="112" y="719" width="3" height="2" fill="#00ffff"/>
<rect x="109" y="721" width="3" height="2" fill="#00ffff"/>
<rect x="112" y="721" width="3" height="2" fill="#ffd700"/>
<rect x="105" y="723" width="4" height="2" fill="#ffb6c1"/>
<rect x="109" y="723" width="3" height="6" fill="#ff0000"/>
<rect x="105" y="725" width="4" height="4" fill="#00ffff"/>
<rect x="124" y="725" width="3" height="2" fill="#ffb6c1"/>
<rect x="105" y="729" width="4" height="2" fill="#ff0000"/>
<rect x="109" y="729" width="3" height="9" fill="#ffd700"/>
<rect x="105" y="731" width="4" height="3" fill="#ffd700"/>
<rect x="112" y="732" width="3" height="2" fill="#ff0000"/>
<rect x="115" y="732" width="2" height="4" fill="#ffb6c1"/>
<rect x="105" y="736" width="4" height="2" fill="#ffb6c1"/>
<rect x="112" y="736" width="3" height="2" fill="#ffb6c1"/>
<rect x="115" y="736" width="2" height="2" fill="#00ffff"/>
<rect x="119" y="736" width="2" height="2" fill="#00ffff"/>
<rect x="124" y="736" width="3" height="2" fill="#ffb6c1"/>
<rect x="130" y="734" width="3" height="2" fill="#ba55d3"/>
<rect x="130" y="736" width="3" height="2" fill="#00bfff"/>
<rect x="143" y="723" width="4" height="8" fill="#00ffff"/>
<rect x="143" y="731" width="4" height="1" fill="#3c3cff"/>
<rect x="143" y="732" width="4" height="4" fill="#ba55d3"/>
<rect x="143" y="736" width="4" height="2" fill="#3c3cff"/>
<rect x="186" y="732" width="3" height="2" fill="#ffb6c1"/>
<rect x="186" y="734" width="3" height="2" fill="#00ffff"/>
<rect x="186" y="736" width="3" height="2" fill="#3c3cff"/>
<rect x="231" y="736" width="6" height="2" fill="#ffd700"/>
<rect x="241" y="725" width="4" height="2" fill="#ffd700"/>
<rect x="241" y="727" width="4" height="2" fill="#ba55d3"/>
<rect x="237" y="729" width="8" height="5" fill="#00ffff"/>
<rect x="237" y="734" width="4" height="2" fill="#00ffff"/>
<rect x="241" y="734" width="4" height="2" fill="#ba55d3"/>
<rect x="241" y="736" width="4" height="2" fill="#ffb6c1"/>
<rect x="262" y="734" width="4" height="2" fill="#ffd700"/>
<rect x="262" y="736" width="4" height="2" fill="#ffb6c1"/>
<rect x="273" y="734" width="4" height="2" fill="#ffd700"/>
<rect x="273" y="736" width="4" height="2" fill="#00ffff"/>
<rect x="523" y="582" width="7" height="2" fill="#3c3cff"/>
<rect x="517" y="584" width="6" height="2" fill="#3c3cff"/>
<rect x="517" y="586" width="6" height="2" fill="#00ffff"/>
<rect x="544" y="595" width="6" height="2" fill="#ba55d3"/>
<rect x="544" y="604" width="6" height="2" fill="#ffd700"/>
<rect x="557" y="608" width="7" height="2" fill="#ffd700"/>
<rect x="369" y="608" width="3" height="2" fill="#3c3cff"/>
<rect x="380" y="608" width="5" height="2" fill="#00ffff"/>
<rect x="380" y="610" width="5" height="2" fill="#ff0000"/>
<rect x="372" y="612" width="4" height="2" fill="#00ffff"/>
<rect x="510" y="612" width="7" height="3" fill="#00ffff"/>
<rect x="510" y="615" width="7" height="2" fill="#3c3cff"/>
<rect x="510" y="617" width="7" height="2" fill="#ba55d3"/>
<rect x="523" y="617" width="7" height="2" fill="#ffb6c1"/>
<rect x="523" y="636" width="7" height="2" fill="#ffb6c1"/>
<rect x="510" y="640" width="7" height="1" fill="#ffb6c1"/>
<rect x="550" y="640" width="7" height="1" fill="#ba55d3"/>
<rect x="486" y="641" width="5" height="2" fill="#ba55d3"/>
<rect x="517" y="643" width="6" height="2" fill="#ffb6c1"/>
<rect x="550" y="649" width="7" height="2" fill="#ffb6c1"/>
<rect x="349" y="651" width="5" height="2" fill="#3c3cff"/>
<rect x="486" y="654" width="5" height="2" fill="#ba55d3"/>
<rect x="380" y="656" width="5" height="2" fill="#ff0000"/>
<rect x="510" y="662" width="7" height="2" fill="#00ffff"/>
<rect x="557" y="662" width="7" height="2" fill="#ba55d3"/>
<rect x="557" y="664" width="7" height="2" fill="#00ffff"/>
<rect x="369" y="671" width="3" height="2" fill="#ff0000"/>
<rect x="530" y="680" width="7" height="2" fill="#3c3cff"/>
<rect x="517" y="682" width="6" height="2" fill="#3c3cff"/>
<rect x="343" y="684" width="6" height="2" fill="#3c3cff"/>
<rect x="523" y="688" width="7" height="2" fill="#ba55d3"/>
<rect x="510" y="690" width="7" height="2" fill="#ba55d3"/>
<rect x="510" y="692" width="7" height="1" fill="#ffd700"/>
<rect x="530" y="697" width="7" height="2" fill="#ba55d3"/>
<rect x="405" y="701" width="5" height="2" fill="#ffd700"/>
<rect x="530" y="708" width="7" height="2" fill="#00ffff"/>
<rect x="517" y="710" width="6" height="2" fill="#00ffff"/>
<rect x="517" y="712" width="6" height="2" fill="#ffb6c1"/>
<rect x="523" y="712" width="7" height="2" fill="#ba55d3"/>
<rect x="482" y="714" width="4" height="2" fill="#ffd700"/>
<rect x="550" y="714" width="14" height="2" fill="#ba55d3"/>
<rect x="550" y="716" width="7" height="2" fill="#ba55d3"/>
<rect x="491" y="718" width="5" height="1" fill="#ffd700"/>
<rect x="491" y="719" width="5" height="2" fill="#ba55d3"/>
<rect x="517" y="725" width="6" height="2" fill="#ba55d3"/>
<rect x="517" y="727" width="6" height="2" fill="#00ffff"/>
<rect x="491" y="729" width="5" height="2" fill="#ba55d3"/>
<rect x="510" y="731" width="7" height="1" fill="#3c3cff"/>
<rect x="461" y="734" width="7" height="2" fill="#ba55d3"/>
<rect x="510" y="734" width="7" height="4" fill="#ba55d3"/>
<rect x="523" y="734" width="7" height="4" fill="#ba55d3"/>
<rect x="544" y="734" width="6" height="4" fill="#ffd700"/>
<rect x="328" y="736" width="8" height="2" fill="#ba55d3"/>
<rect x="336" y="736" width="7" height="2" fill="#00ffff"/>
<rect x="362" y="736" width="7" height="2" fill="#ffd700"/>
<rect x="434" y="736" width="10" height="2" fill="#ba55d3"/>
<rect x="496" y="736" width="7" height="2" fill="#ffd700"/>
<rect x="564" y="597" width="6" height="2" fill="#ba55d3"/>
<rect x="564" y="599" width="6" height="2" fill="#ffd700"/>
<rect x="616" y="601" width="14" height="1" fill="#ffb6c1"/>
<rect x="616" y="606" width="14" height="2" fill="#ffb6c1"/>
<rect x="616" y="619" width="14" height="2" fill="#00ffff"/>
<rect x="590" y="621" width="7" height="2" fill="#ba55d3"/>
<rect x="616" y="625" width="14" height="2" fill="#ba55d3"/>
<rect x="604" y="627" width="12" height="1" fill="#ba55d3"/>
<rect x="710" y="591" width="13" height="2" fill="#ba55d3"/>
<rect x="710" y="593" width="13" height="2" fill="#ffd700"/>
<rect x="723" y="595" width="16" height="2" fill="#ffd700"/>
<rect x="761" y="602" width="17" height="2" fill="#ffd700"/>
<rect x="761" y="649" width="17" height="2" fill="#ffd700"/>
<rect x="570" y="667" width="6" height="2" fill="#00ffff"/>
<rect x="643" y="673" width="11" height="4" fill="#ffd700"/>
<rect x="687" y="680" width="11" height="2" fill="#ffd700"/>
<rect x="570" y="695" width="6" height="2" fill="#ba55d3"/>
<rect x="576" y="697" width="6" height="2" fill="#ba55d3"/>
<rect x="576" y="705" width="6" height="1" fill="#ba55d3"/>
<rect x="677" y="719" width="10" height="2" fill="#ffd700"/>
<rect x="616" y="727" width="14" height="2" fill="#ffd700"/>
<rect x="590" y="732" width="7" height="2" fill="#00ffff"/>
<rect x="597" y="736" width="7" height="2" fill="#00ffff"/>
<rect x="616" y="736" width="14" height="2" fill="#ba55d3"/>
<rect x="643" y="736" width="11" height="2" fill="#3c3cff"/>
<rect x="710" y="734" width="13" height="2" fill="#00ffff"/>
<rect x="710" y="736" width="29" height="2" fill="#ff0000"/>
<rect x="273" y="365" width="4" height="2" fill="#ffb6c1"/>
<rect x="131" y="101" width="1" height="692" fill="#b0b0b0"/>
<rect x="223" y="101" width="1" height="692" fill="#b0b0b0"/>
<rect x="316" y="101" width="1" height="692" fill="#b0b0b0"/>
<rect x="408" y="101" width="1" height="692" fill="#b0b0b0"/>
<rect x="501" y="101" width="1" height="692" fill="#b0b0b0"/>
<rect x="593" y="101" width="1" height="692" fill="#b0b0b0"/>
<rect x="685" y="101" width="1" height="692" fill="#b0b0b0"/>
<rect x="86" y="669" width="692" height="1" fill="#b0b0b0"/>
<rect x="86" y="545" width="692" height="1" fill="#b0b0b0"/>
<rect x="86" y="421" width="692" height="1" fill="#b0b0b0"/>
<rect x="86" y="298" width="692" height="1" fill="#b0b0b0"/>
<rect x="86" y="174" width="692" height="1" fill="#b0b0b0"/>
<rect x="85" y="794" width="1" height="3" fill="#2a2a2a"/>
<rect x="108" y="794" width="1" height="3" fill="#2a2a2a"/>
<rect x="131" y="794" width="1" height="5" fill="#000"/>
<rect x="154" y="794" width="1" height="3" fill="#2a2a2a"/>
<rect x="177" y="794" width="1" height="3" fill="#2a2a2a"/>
<rect x="200" y="794" width="1" height="3" fill="#2a2a2a"/>
<rect x="223" y="794" width="1" height="5" fill="#000"/>
<rect x="247" y="794" width="1" height="3" fill="#2a2a2a"/>
<rect x="270" y="794" width="1" height="3" fill="#2a2a2a"/>
<rect x="293" y="794" width="1" height="3" fill="#2a2a2a"/>
<rect x="316" y="794" width="1" height="5" fill="#000"/>
<rect x="339" y="794" width="1" height="3" fill="#2a2a2a"/>
<rect x="362" y="794" width="1" height="3" fill="#2a2a2a"/>
<rect x="385" y="794" width="1" height="3" fill="#2a2a2a"/>
<rect x="408" y="794" width="1" height="5" fill="#000"/>
<rect x="431" y="794" width="1" height="3" fill="#2a2a2a"/>
<rect x="454" y="794" width="1" height="3" fill="#2a2a2a"/>
<rect x="477" y="794" width="1" height="3" fill="#2a2a2a"/>
<rect x="501" y="794" width="1" height="5" fill="#000"/>
<rect x="524" y="794" width="1" height="3" fill="#2a2a2a"/>
<rect x="547" y="794" width="1" height="3" fill="#2a2a2a"/>
<rect x="570" y="794" width="1" height="3" fill="#2a2a2a"/>
<rect x="593" y="794" width="1" height="5" fill="#000"/>
<rect x="616" y="794" width="1" height="3" fill="#2a2a2a"/>
<rect x="639" y="794" width="1" height="3" fill="#2a2a2a"/>
<rect x="662" y="794" width="1" height="3" fill="#2a2a2a"/>
<rect x="685" y="794" width="1" height="5" fill="#000"/>
<rect x="708" y="794" width="1" height="3" fill="#2a2a2a"/>
<rect x="731" y="794" width="1" height="3" fill="#2a2a2a"/>
<rect x="755" y="794" width="1" height="3" fill="#2a2a2a"/>
<rect x="778" y="794" width="1" height="5" fill="#000"/>
<rect x="80" y="793" width="5" height="1" fill="#000"/>
<rect x="82" y="762" width="3" height="1" fill="#2a2a2a"/>
<rect x="82" y="731" width="3" height="1" fill="#2a2a2a"/>
<rect x="82" y="700" width="3" height="1" fill="#2a2a2a"/>
<rect x="80" y="669" width="5" height="1" fill="#000"/>
<rect x="82" y="638" width="3" height="1" fill="#2a2a2a"/>
<rect x="82" y="607" width="3" height="1" fill="#2a2a2a"/>
<rect x="82" y="576" width="3" height="1" fill="#2a2a2a"/>
<rect x="80" y="545" width="5" height="1" fill="#000"/>
<rect x="82" y="514" width="3" height="1" fill="#2a2a2a"/>
<rect x="82" y="483" width="3" height="1" fill="#2a2a2a"/>
<rect x="82" y="452" width="3" height="1" fill="#2a2a2a"/>
<rect x="80" y="421" width="5" height="1" fill="#000"/>
<rect x="82" y="390" width="3" height="1" fill="#2a2a2a"/>
<rect x="82" y="360" width="3" height="1" fill="#2a2a2a"/>
<rect x="82" y="329" width="3" height="1" fill="#2a2a2a"/>
<rect x="80" y="298" width="5" height="1" fill="#000"/>
<rect x="82" y="267" width="3" height="1" fill="#2a2a2a"/>
<rect x="82" y="236" width="3" height="1" fill="#2a2a2a"/>
<rect x="82" y="205" width="3" height="1" fill="#2a2a2a"/>
<rect x="80" y="174" width="5" height="1" fill="#000"/>
<rect x="82" y="143" width="3" height="1" fill="#2a2a2a"/>
<rect x="82" y="112" width="3" height="1" fill="#2a2a2a"/>
<rect x="85" y="100" width="694" height="1" fill="#000"/>
<rect x="85" y="793" width="694" height="1" fill="#000"/>
<rect x="85" y="100" width="1" height="694" fill="#000"/>
<rect x="778" y="100" width="1" height="694" fill="#000"/>
<rect x="810" y="82" width="30" height="90" fill="#00bfff"/>
<rect x="810" y="172" width="30" height="90" fill="#00ffff"/>
<rect x="810" y="262" width="30" height="90" fill="#ffd700"/>
<rect x="810" y="352" width="30" height="90" fill="#ffb6c1"/>
<rect x="810" y="442" width="30" height="90" fill="#ba55d3"/>
<rect x="810" y="532" width="30" height="90" fill="#3c3cff"/>
<rect x="810" y="622" width="30" height="90" fill="#ff0000"/>
<rect x="810" y="712" width="30" height="90" fill="#008000"/>
<rect x="809" y="82" width="31" height="1" fill="#000"/>
<rect x="809" y="802" width="31" height="1" fill="#000"/>
<rect x="809" y="82" width="1" height="721" fill="#000"/>
<rect x="839" y="82" width="1" height="721" fill="#000"/>
<rect x="840" y="82" width="3" height="1" fill="#2a2a2a"/>
<rect x="840" y="172" width="3" height="1" fill="#2a2a2a"/>
<rect x="840" y="262" width="3" height="1" fill="#2a2a2a"/>
<rect x="840" y="352" width="3" height="1" fill="#2a2a2a"/>
<rect x="840" y="442" width="3" height="1" fill="#2a2a2a"/>
<rect x="840" y="532" width="3" height="1" fill="#2a2a2a"/>
<rect x="840" y="622" width="3" height="1" fill="#2a2a2a"/>
<rect x="840" y="712" width="3" height="1" fill="#2a2a2a"/>
<rect x="840" y="802" width="3" height="1" fill="#2a2a2a"/>
<rect x="840" y="127" width="5" height="1" fill="#000"/>
<rect x="840" y="217" width="5" height="1" fill="#000"/>
<rect x="840" y="307" width="5" height="1" fill="#000"/>
<rect x="840" y="397" width="5" height="1" fill="#000"/>
<rect x="840" y="487" width="5" height="1" fill="#000"/>
<rect x="840" y="577" width="5" height="1" fill="#000"/>
<rect x="840" y="667" width="5" height="1" fill="#000"/>
<rect x="840" y="757" width="5" height="1" fill="#000"/>
</svg>
<div class="t title" style="left:142.56px;top:7.1px;font-size:30.5px;transform:scaleX(0.9704);transform-origin:0 0">NAL</div>
<div class="t title" style="left:208.83px;top:7.1px;font-size:30.5px;transform:scaleX(0.9698);transform-origin:0 0">CADI</div>
<div class="t title" style="left:288.86px;top:7.1px;font-size:30.5px;transform:scaleX(0.9375);transform-origin:0 0">-</div>
<div class="t title" style="left:308.41px;top:7.1px;font-size:30.5px;transform:scaleX(0.9884);transform-origin:0 0">Sep</div>
<div class="t title" style="left:371.47px;top:7.1px;font-size:30.5px;transform:scaleX(1.0262);transform-origin:0 0">02</div>
<div class="t title" style="left:417.62px;top:7.1px;font-size:30.5px;transform:scaleX(1.0808);transform-origin:0 0">05:00:00</div>
<div class="t title" style="left:556.53px;top:7.1px;font-size:30.5px;transform:scaleX(1.0654);transform-origin:0 0">2023</div>
<div class="t title" style="left:639.1px;top:7.1px;font-size:30.5px;transform:scaleX(0.9018);transform-origin:0 0">UTC</div>
<div class="t xl" style="left:329.64px;top:818.9px;font-size:26.4px;transform:scaleX(0.9798);transform-origin:0 0">Frequency</div>
<div class="t xl" style="left:462.75px;top:818.9px;font-size:26.4px;transform:scaleX(0.9525);transform-origin:0 0">(MHz)</div>
<div class="t yl" style="left:6.0px;top:559.9px;font-size:26.4px;transform:rotate(-90deg) scaleX(1.0413);transform-origin:0 0">Virtual</div>
<div class="t yl" style="left:6.0px;top:472.63px;font-size:26.4px;transform:rotate(-90deg) scaleX(1.0311);transform-origin:0 0">height</div>
<div class="t yl" style="left:6.0px;top:389.93px;font-size:26.4px;transform:rotate(-90deg) scaleX(1.034);transform-origin:0 0">(km)</div>
<div class="t cl" style="left:913.5px;top:549.9px;font-size:26.4px;transform:rotate(-90deg) scaleX(1.0336);transform-origin:0 0">Azimuth</div>
<div class="t cl" style="left:913.5px;top:443.59px;font-size:26.4px;transform:rotate(-90deg) scaleX(1.0433);transform-origin:0 0">Direction</div>
<div class="t xt" style="left:110.8px;width:40px;text-align:center;top:802.6px;font-size:14.3px;transform:scaleX(1.08);transform-origin:50% 0">2</div>
<div class="t xt" style="left:203.1px;width:40px;text-align:center;top:802.6px;font-size:14.3px;transform:scaleX(1.08);transform-origin:50% 0">4</div>
<div class="t xt" style="left:295.5px;width:40px;text-align:center;top:802.6px;font-size:14.3px;transform:scaleX(1.08);transform-origin:50% 0">6</div>
<div class="t xt" style="left:387.9px;width:40px;text-align:center;top:802.6px;font-size:14.3px;transform:scaleX(1.08);transform-origin:50% 0">8</div>
<div class="t xt" style="left:480.2px;width:40px;text-align:center;top:802.6px;font-size:14.3px;transform:scaleX(1.08);transform-origin:50% 0">10</div>
<div class="t xt" style="left:572.6px;width:40px;text-align:center;top:802.6px;font-size:14.3px;transform:scaleX(1.08);transform-origin:50% 0">12</div>
<div class="t xt" style="left:664.9px;width:40px;text-align:center;top:802.6px;font-size:14.3px;transform:scaleX(1.08);transform-origin:50% 0">14</div>
<div class="t xt" style="left:757.3px;width:40px;text-align:center;top:802.6px;font-size:14.3px;transform:scaleX(1.08);transform-origin:50% 0">16</div>
<div class="t yt" style="left:15.500000000000004px;width:60px;text-align:right;top:787.1px;font-size:14.3px;transform:scaleX(1.08);transform-origin:100% 0">0</div>
<div class="t yt" style="left:14.200000000000003px;width:60px;text-align:right;top:663.7px;font-size:14.3px;transform:scaleX(1.08);transform-origin:100% 0">200</div>
<div class="t yt" style="left:14.200000000000003px;width:60px;text-align:right;top:540.0px;font-size:14.3px;transform:scaleX(1.08);transform-origin:100% 0">400</div>
<div class="t yt" style="left:14.200000000000003px;width:60px;text-align:right;top:416.3px;font-size:14.3px;transform:scaleX(1.08);transform-origin:100% 0">600</div>
<div class="t yt" style="left:14.200000000000003px;width:60px;text-align:right;top:292.6px;font-size:14.3px;transform:scaleX(1.08);transform-origin:100% 0">800</div>
<div class="t yt" style="left:14.200000000000003px;width:60px;text-align:right;top:168.9px;font-size:14.3px;transform:scaleX(1.08);transform-origin:100% 0">1000</div>
<div class="t ct" style="left:849.06px;top:119.3px;font-size:17.4px;transform:scaleX(0.9371);transform-origin:0 0">NNE</div>
<div class="t ct" style="left:849.13px;top:209.3px;font-size:17.4px;transform:scaleX(0.8700);transform-origin:0 0">E</div>
<div class="t ct" style="left:848.81px;top:299.3px;font-size:17.4px;transform:scaleX(0.8939);transform-origin:0 0">SSE</div>
<div class="t ct" style="left:848.79px;top:389.3px;font-size:17.4px;transform:scaleX(0.9103);transform-origin:0 0">SSW</div>
<div class="t ct" style="left:849.50px;top:479.3px;font-size:17.4px;transform:scaleX(0.9688);transform-origin:0 0">W</div>
<div class="t ct" style="left:849.03px;top:569.3px;font-size:17.4px;transform:scaleX(0.9700);transform-origin:0 0">NNW</div>
<div class="t ct" style="left:849.10px;top:659.3px;font-size:17.4px;transform:scaleX(1.0768);transform-origin:0 0">Vertical</div>
<div class="t ct" style="left:848.66px;top:749.3px;font-size:17.4px;transform:scaleX(1.0373);transform-origin:0 0">X-mode</div>
</body></html>
